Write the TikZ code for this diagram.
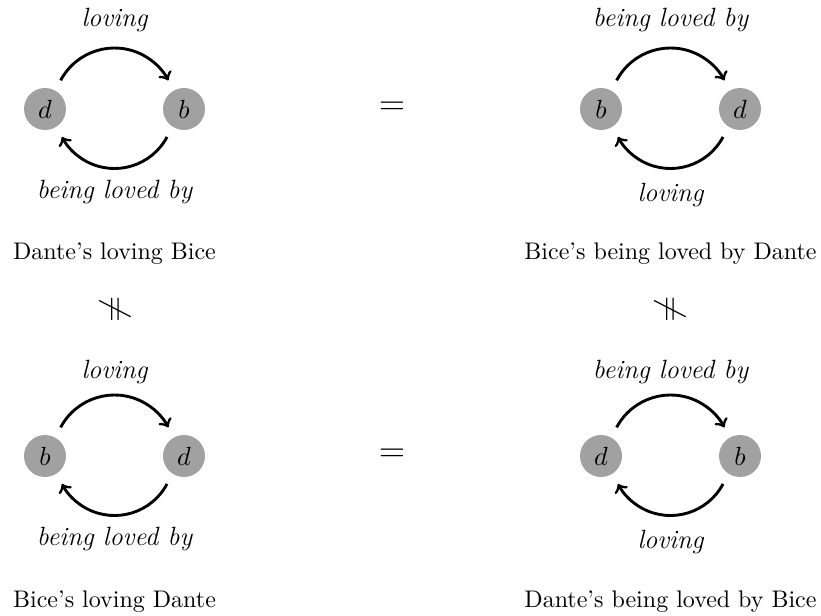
\documentclass[tikz,border=0pt]{standalone}
\begin{document}
\begin{tikzpicture}[x=0.41667pt,y=0.41667pt,
  ent/.style={circle,fill=black!37,minimum size=17.5pt,inner sep=0pt,font=\fontsize{11}{13}\selectfont},
  rel/.style={->,line width=1.2pt},
  lab/.style={font=\fontsize{11}{13}\selectfont\itshape,anchor=base,inner sep=0pt},
  captxt/.style={anchor=base,inner sep=0pt},
  sym/.style={font=\Large,inner sep=0pt}]
\useasboundingbox (0,0) rectangle (821,615);
% top-left
\node[ent] (d1) at (45,506) {$d$};
\node[ent] (b1) at (184,506) {$b$};
\coordinate (m1) at (114.5,506);
\draw[rel] ([shift={(152:61)}]m1) arc[start angle=152,end angle=28,radius=61];
\draw[rel] ([shift={(-28:59.5)}]m1) arc[start angle=-28,end angle=-152,radius=59.5];
\node[lab] (l1t) at (114.5,588.5) {loving};
\node[lab] (l1b) at (114.5,416.6) {being loved by};
\node[captxt] (c1) at (114.5,356) {Dante's loving Bice};
% top-right
\node[ent] (b2) at (601,506) {$b$};
\node[ent] (d2) at (740,506) {$d$};
\coordinate (m2) at (670.5,506);
\draw[rel] ([shift={(152:61)}]m2) arc[start angle=152,end angle=28,radius=61];
\draw[rel] ([shift={(-28:59.5)}]m2) arc[start angle=-28,end angle=-152,radius=59.5];
\node[lab] (l2t) at (670.5,588.3) {being loved by};
\node[lab] (l2b) at (670.5,413.3) {loving};
\node[captxt] (c2) at (670.5,356) {Bice's being loved by Dante};
% bottom-left
\node[ent] (b3) at (45,159) {$b$};
\node[ent] (d3) at (184,159) {$d$};
\coordinate (m3) at (114.5,159);
\draw[rel] ([shift={(152:61)}]m3) arc[start angle=152,end angle=28,radius=61];
\draw[rel] ([shift={(-28:59.5)}]m3) arc[start angle=-28,end angle=-152,radius=59.5];
\node[lab] (l3t) at (114.5,237) {loving};
\node[lab] (l3b) at (114.5,70) {being loved by};
\node[captxt] (c3) at (114.5,8) {Bice's loving Dante};
% bottom-right
\node[ent] (d4) at (601,159) {$d$};
\node[ent] (b4) at (740,159) {$b$};
\coordinate (m4) at (670.5,159);
\draw[rel] ([shift={(152:61)}]m4) arc[start angle=152,end angle=28,radius=61];
\draw[rel] ([shift={(-28:59.5)}]m4) arc[start angle=-28,end angle=-152,radius=59.5];
\node[lab] (l4t) at (670.5,237) {being loved by};
\node[lab] (l4b) at (670.5,66.3) {loving};
\node[captxt] (c4) at (670.5,8) {Dante's being loved by Bice};
% symbols
\node[sym] (eq1) at (392,506.5) {$=$};
\node[sym] (eq2) at (392,159.6) {$=$};
\node[sym] (np1) at (115,305.5) {\rotatebox{90}{$\neq$}};
\node[sym] (np2) at (670,305.5) {\rotatebox{90}{$\neq$}};
\end{tikzpicture}
\end{document}
